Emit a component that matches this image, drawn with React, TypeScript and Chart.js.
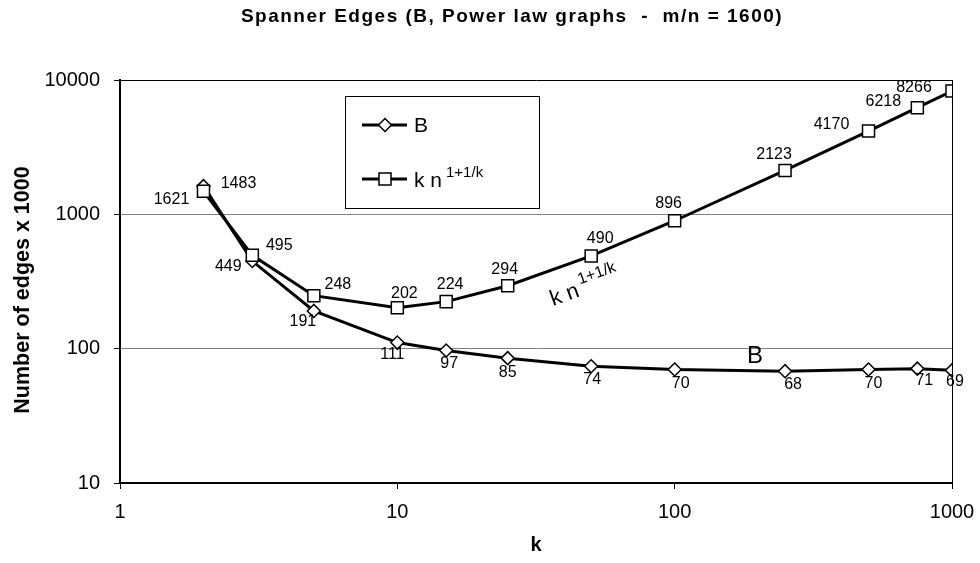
import { useEffect, useRef } from 'react';
import { Chart, registerables } from 'chart.js';

Chart.register(...registerables);

// Spanner size per stretch parameter k, power-law graphs with m/n = 1600
const kValues = [2, 3, 5, 10, 15, 25, 50, 100, 250, 500, 750, 1000];
const bEdges = [1621, 449, 191, 111, 97, 85, 74, 70, 68, 70, 71, 69];
const boundEdges = [1483, 495, 248, 202, 224, 294, 490, 896, 2123, 4170, 6218, 8266];

const xTicks = [1, 10, 100, 1000];
const yTicks = [10, 100, 1000, 10000];

// Value-label placement (pixel offsets from each marker)
const bLabelOffsets: [number, number][] = [
  [-32, 13], [-24, 6], [-11, 11], [-5, 12], [3, 13], [0, 14],
  [1, 13], [6, 14], [8, 13], [5, 14], [7, 12], [3, 11],
];
const boundLabelOffsets: [number, number][] = [
  [35, -8], [27, -10], [24, -11], [7, -14], [4, -17], [-3, -16],
  [9, -17], [-6, -17], [-11, -16], [-37, -6], [-34, -6], [-38, -4],
];

const FONT = '"Liberation Sans", Arial, sans-serif';

function diamond(ctx: CanvasRenderingContext2D, x: number, y: number, r: number) {
  ctx.beginPath();
  ctx.moveTo(x - r, y);
  ctx.lineTo(x, y - r);
  ctx.lineTo(x + r, y);
  ctx.lineTo(x, y + r);
  ctx.closePath();
  ctx.fillStyle = '#fff';
  ctx.fill();
  ctx.lineWidth = 1.5;
  ctx.strokeStyle = '#000';
  ctx.stroke();
}

function square(ctx: CanvasRenderingContext2D, x: number, y: number, h: number) {
  ctx.fillStyle = '#fff';
  ctx.fillRect(x - h, y - h, 2 * h, 2 * h);
  ctx.lineWidth = 1.5;
  ctx.strokeStyle = '#000';
  ctx.strokeRect(x - h, y - h, 2 * h, 2 * h);
}

const overlay = {
  id: 'overlay',
  afterDatasetsDraw(chart: any) {
    const ctx: CanvasRenderingContext2D = chart.ctx;
    ctx.save();

    // value labels
    ctx.font = `16px ${FONT}`;
    ctx.fillStyle = '#000';
    ctx.textAlign = 'center';
    ctx.textBaseline = 'middle';
    const series: [number[], [number, number][]][] = [
      [boundEdges, boundLabelOffsets],
      [bEdges, bLabelOffsets],
    ];
    series.forEach(([vals, offs], di) => {
      const meta = chart.getDatasetMeta(di);
      meta.data.forEach((pt: any, i: number) => {
        ctx.fillText(String(vals[i]), pt.x + offs[i][0], pt.y + offs[i][1]);
      });
    });

    // curve annotations
    ctx.font = `24px ${FONT}`;
    ctx.fillText('B', 755, 356);

    ctx.save();
    ctx.translate(553, 306);
    ctx.rotate((-20 * Math.PI) / 180);
    ctx.textAlign = 'left';
    ctx.textBaseline = 'alphabetic';
    ctx.font = `22px ${FONT}`;
    ctx.fillText('k n', 0, 0);
    const w = ctx.measureText('k n').width;
    ctx.font = `16px ${FONT}`;
    ctx.fillText('1+1/k', w + 3, -11);
    ctx.restore();

    // legend
    ctx.fillStyle = '#fff';
    ctx.fillRect(345, 96, 194, 112);
    ctx.strokeStyle = '#000';
    ctx.lineWidth = 1;
    ctx.strokeRect(345.5, 96.5, 194, 112);

    ctx.lineWidth = 3;
    ctx.beginPath();
    ctx.moveTo(362, 125);
    ctx.lineTo(407, 125);
    ctx.moveTo(362, 179);
    ctx.lineTo(407, 179);
    ctx.stroke();
    diamond(ctx, 385, 125, 6.5);
    square(ctx, 385, 179, 6);

    ctx.fillStyle = '#000';
    ctx.textAlign = 'left';
    ctx.textBaseline = 'alphabetic';
    ctx.font = `21px ${FONT}`;
    ctx.fillText('B', 414, 132);
    ctx.fillText('k n', 414, 187);
    const lw = ctx.measureText('k n').width;
    ctx.font = `15px ${FONT}`;
    ctx.fillText('1+1/k', 414 + lw + 4, 177);

    ctx.restore();
  },
  afterDraw(chart: any) {
    const ctx: CanvasRenderingContext2D = chart.ctx;
    ctx.save();
    ctx.fillStyle = '#000';
    ctx.textAlign = 'center';
    ctx.textBaseline = 'middle';

    ctx.font = `bold 19px ${FONT}`;
    (ctx as any).letterSpacing = '1.5px';
    ctx.fillText('Spanner Edges (B, Power law graphs  -  m/n = 1600)', 512, 17);
    (ctx as any).letterSpacing = '0px';

    ctx.font = `bold 20px ${FONT}`;
    ctx.fillText('k', 536, 545);

    ctx.save();
    ctx.translate(23, 290);
    ctx.rotate(-Math.PI / 2);
    ctx.font = `bold 21.5px ${FONT}`;
    ctx.fillText('Number of edges x 1000', 0, 0);
    ctx.restore();

    ctx.restore();
  },
};

export default function App() {
  const canvasRef = useRef<HTMLCanvasElement | null>(null);

  useEffect(() => {
    const canvas = canvasRef.current;
    if (!canvas) return;

    const chart = new Chart(canvas, {
      type: 'scatter',
      data: {
        datasets: [
          {
            label: 'k n^(1+1/k)',
            data: kValues.map((k, i) => ({ x: k, y: boundEdges[i] })),
            showLine: true,
            borderColor: '#000',
            borderWidth: 3,
            pointStyle: 'rect',
            pointRadius: 8.5,
            pointBackgroundColor: '#fff',
            pointBorderColor: '#000',
            pointBorderWidth: 1.5,
            order: 0,
          },
          {
            label: 'B',
            data: kValues.map((k, i) => ({ x: k, y: bEdges[i] })),
            showLine: true,
            borderColor: '#000',
            borderWidth: 3,
            pointStyle: 'rectRot',
            pointRadius: 6.5,
            pointBackgroundColor: '#fff',
            pointBorderColor: '#000',
            pointBorderWidth: 1.5,
            order: 1,
          },
        ],
      },
      options: {
        animation: false,
        responsive: false,
        devicePixelRatio: 1,
        layout: { padding: { top: 80, right: 28, left: 0, bottom: 0 } },
        plugins: {
          legend: { display: false },
          title: { display: false },
          tooltip: { enabled: false },
        },
        scales: {
          x: {
            type: 'logarithmic',
            min: 1,
            max: 1000,
            afterBuildTicks: (s: any) => {
              s.ticks = xTicks.map((v) => ({ value: v }));
            },
            afterFit: (s: any) => {
              s.height = 80;
              s.paddingLeft = 0;
              s.paddingRight = 0;
            },
            ticks: {
              callback: (v: any) => String(v),
              autoSkip: false,
              maxRotation: 0,
              color: '#000',
              padding: 11,
              font: { family: FONT, size: 20 },
            },
            grid: {
              color: (c: any) => (c.tick && c.tick.value === 1000 ? '#000' : 'rgba(0,0,0,0)'),
              tickColor: '#000',
              tickLength: 6,
              lineWidth: 1,
            },
            border: { display: true, color: '#000', width: 2 },
          },
          y: {
            type: 'logarithmic',
            min: 10,
            max: 10000,
            afterBuildTicks: (s: any) => {
              s.ticks = yTicks.map((v) => ({ value: v }));
            },
            afterFit: (s: any) => {
              s.width = 120;
              s.paddingTop = 0;
              s.paddingBottom = 0;
            },
            ticks: {
              callback: (v: any) => String(v),
              autoSkip: false,
              color: '#000',
              padding: 14,
              font: { family: FONT, size: 20 },
            },
            grid: {
              color: (c: any) => {
                const v = c.tick && c.tick.value;
                if (v === 10000) return '#000';
                if (v === 10) return 'rgba(0,0,0,0)';
                return '#808080';
              },
              tickColor: '#000',
              tickLength: 6,
              lineWidth: 1,
            },
            border: { display: true, color: '#000', width: 2 },
          },
        },
      },
      plugins: [overlay],
    } as any);

    return () => chart.destroy();
  }, []);

  return (
    <div style={{ position: 'absolute', left: 0, top: 0, width: 980, height: 563, background: '#fff' }}>
      <canvas ref={canvasRef} width={980} height={563} style={{ display: 'block' }} />
    </div>
  );
}
